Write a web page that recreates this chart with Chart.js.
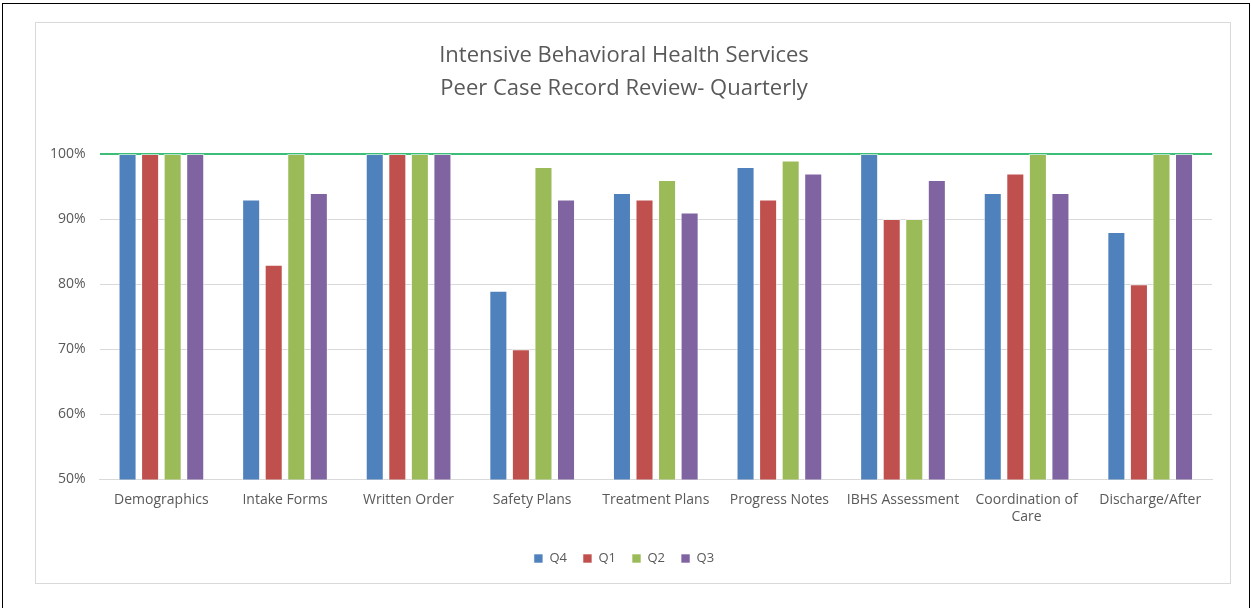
<!DOCTYPE html>
<html>
<head>
<meta charset="utf-8">
<script src="https://cdn.jsdelivr.net/npm/chart.js@4"></script>
<style>
  body { margin: 0; background: #fff; }
  .frame { position: absolute; left: 2px; top: 3px; width: 1246px; height: 640px; border: 1px solid #000; }
  .box { position: absolute; left: 35px; top: 22px; width: 1194px; height: 560px; border: 1px solid #d9d9d9; background: #fff; }
</style>
</head>
<body>
<div class="frame"></div>
<div class="box"><canvas id="myChart" width="1194" height="560"></canvas></div>
<script>
const labels = ["Demographics", "Intake Forms", "Written Order", "Safety Plans", "Treatment Plans",
    "Progress Notes", "IBHS Assessment", ["Coordination of", "Care"], "Discharge/After"]
const q4 = [100, 93, 100, 79, 94, 98, 100, 94, 88]
const q1 = [100, 83, 100, 70, 93, 93, 90, 97, 80]
const q2 = [100, 100, 100, 98, 96, 99, 90, 100, 100]
const q3 = [100, 94, 100, 93, 91, 97, 96, 94, 100]
const yTicks = [50, 60, 70, 80, 90, 100]

const font = "'Open Sans', sans-serif"
const ctx = document.getElementById("myChart").getContext("2d")

const bar = (label, data, color) => ({
    label: label,
    data: data,
    backgroundColor: color,
    borderColor: "rgba(255,255,255,0.6)",
    borderWidth: 1,
    categoryPercentage: 0.73,
    barPercentage: 0.8
})

new Chart(ctx, {
    type: "bar",
    data: {
        labels: labels,
        datasets: [
            bar("Q4", q4, "#4F81BD"),
            bar("Q1", q1, "#C0504D"),
            bar("Q2", q2, "#9BBB59"),
            bar("Q3", q3, "#8064A2")
        ]
    },
    options: {
        responsive: false,
        animation: false,
        layout: { padding: { top: 16, right: 18, left: 0, bottom: 8 } },
        plugins: {
            title: {
                display: true,
                text: ["Intensive Behavioral Health Services", "Peer Case Record Review- Quarterly"],
                color: "#595959",
                font: { family: font, size: 22, weight: "normal", lineHeight: 1.5 },
                padding: { top: 0, bottom: 49 }
            },
            legend: {
                position: "bottom",
                labels: {
                    color: "#595959",
                    font: { family: font, size: 13 },
                    boxWidth: 9,
                    boxHeight: 9,
                    padding: 16
                }
            },
            tooltip: { enabled: false }
        },
        scales: {
            x: {
                grid: { display: false },
                border: { color: "#d9d9d9" },
                ticks: { color: "#595959", font: { family: font, size: 14 }, maxRotation: 0, autoSkip: false, padding: 4 },
                afterFit: axis => { axis.height += 7 }
            },
            y: {
                min: 50,
                max: 100,
                afterBuildTicks: axis => { axis.ticks = yTicks.map(v => ({ value: v })) },
                border: { display: false },
                grid: {
                    color: c => c.tick && c.tick.value === 100 ? "#3DBE78" : "#d9d9d9",
                    lineWidth: c => c.tick && c.tick.value === 100 ? 2 : 1,
                    drawTicks: false
                },
                ticks: {
                    color: "#595959",
                    font: { family: font, size: 14 },
                    padding: 14,
                    callback: v => v + "%"
                }
            }
        }
    }
})
</script>
</body>
</html>
